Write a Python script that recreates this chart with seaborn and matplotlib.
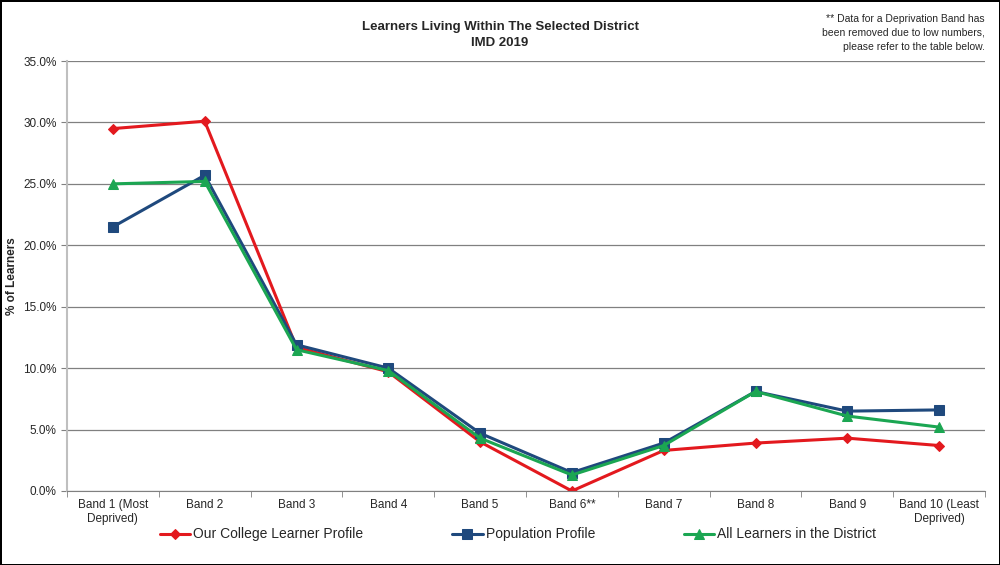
import pandas as pd
import matplotlib
matplotlib.use("Agg")
import matplotlib.pyplot as plt
import seaborn as sns
from matplotlib.ticker import PercentFormatter, FixedLocator

bands = ["Band 1 (Most\nDeprived)", "Band 2", "Band 3", "Band 4", "Band 5",
         "Band 6**", "Band 7", "Band 8", "Band 9", "Band 10 (Least\nDeprived)"]
college = [29.5, 30.1, 11.7, 9.7, 4.0, 0.0, 3.3, 3.9, 4.3, 3.7]
population = [21.5, 25.7, 11.9, 10.0, 4.7, 1.5, 3.9, 8.1, 6.5, 6.6]
district = [25.0, 25.2, 11.5, 9.8, 4.3, 1.3, 3.7, 8.1, 6.1, 5.2]

names = ["Our College Learner Profile", "Population Profile", "All Learners in the District"]
colors = ["#E3191E", "#1F497D", "#1BA652"]
markers = ["D", "s", "^"]
msizes = [5, 7, 7]

sns.set_style("white")
plt.rcParams["font.family"] = ["Liberation Sans", "DejaVu Sans"]

fig = plt.figure(figsize=(10, 5.65), dpi=100)
fig.patch.set_edgecolor("black")
fig.patch.set_linewidth(2)
ax = fig.add_axes([0.067, 0.131, 0.918, 0.761])

for name, vals, c, m, ms in zip(names, [college, population, district], colors, markers, msizes):
    df = pd.DataFrame({"band": bands, "pct": vals})
    sns.lineplot(data=df, x="band", y="pct", ax=ax, color=c, marker=m,
                 markersize=ms, markeredgecolor=c, linewidth=2.2, label=name, sort=False)

ax.set_ylim(0, 35)
ax.set_xlim(-0.5, 9.5)
ax.yaxis.set_major_locator(FixedLocator([0, 5, 10, 15, 20, 25, 30, 35]))
ax.yaxis.set_major_formatter(PercentFormatter(decimals=1))
ax.grid(axis="y", color="#808080", linewidth=0.9)
ax.set_axisbelow(True)
for s in ["top", "right"]:
    ax.spines[s].set_visible(False)
ax.spines["left"].set_color("#bfbfbf")
ax.spines["left"].set_linewidth(1.5)
ax.spines["bottom"].set_color("#808080")
ax.set_xticks(range(len(bands)))
ax.set_xticklabels(bands, fontsize=8.5)
ax.set_xticks([i - 0.5 for i in range(len(bands) + 1)], minor=True)
ax.tick_params(axis="x", which="major", length=0, pad=6)
ax.tick_params(axis="x", which="minor", length=4, color="#808080", bottom=True)
ax.tick_params(axis="y", labelsize=8.5, length=4, color="#808080", left=True)
ax.set_xlabel("")
ax.set_ylabel("% of Learners", fontsize=8.5, fontweight="bold")

ax.get_legend().remove()
h, l = ax.get_legend_handles_labels()
fig.legend(h, l, loc="center", bbox_to_anchor=(0.518, 0.054), ncol=3, frameon=False,
           fontsize=10, columnspacing=6.4, handlelength=2.2, handletextpad=0.2)

fig.text(0.5, 0.938, "Learners Living Within The Selected District\nIMD 2019",
         ha="center", va="center", fontsize=9.5, fontweight="bold", linespacing=1.45)
fig.text(0.985, 0.942, "** Data for a Deprivation Band has\nbeen removed due to low numbers,\nplease refer to the table below.",
         ha="right", va="center", fontsize=7.5, linespacing=1.5)

fig.savefig("out.png", dpi=100, edgecolor=fig.get_edgecolor())
